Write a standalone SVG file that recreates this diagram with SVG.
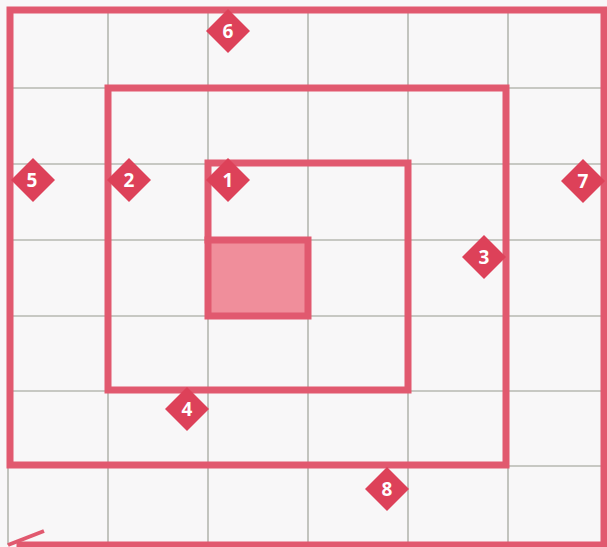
<svg xmlns="http://www.w3.org/2000/svg" width="607" height="547" viewBox="0 0 607 547">
  <style>
    .grid { stroke: #959a8e; stroke-width: 1.1; fill: none; }
    .spiral { stroke: #e1596f; stroke-width: 7; fill: none; stroke-linejoin: miter; stroke-linecap: square; }
    .dia { fill: #dd4159; }
    .num { fill: #ffffff; font-family: "Open Sans", "Liberation Sans", sans-serif; font-weight: bold; font-size: 19px; text-anchor: middle; }
  </style>
  <defs>
    <path id="diamond" d="M0,-22 L22,0 L0,22 L-22,0 Z"/>
  </defs>
  <rect x="0" y="0" width="607" height="547" fill="#f8f7f8"/>
  <g id="grid" class="grid">
    <line x1="108" y1="10" x2="108" y2="545"/>
    <line x1="208" y1="10" x2="208" y2="545"/>
    <line x1="308" y1="10" x2="308" y2="545"/>
    <line x1="408" y1="10" x2="408" y2="545"/>
    <line x1="508" y1="10" x2="508" y2="545"/>
    <line x1="8" y1="465" x2="8" y2="545"/>
    <line x1="10" y1="88" x2="604" y2="88"/>
    <line x1="10" y1="164" x2="604" y2="164"/>
    <line x1="10" y1="240" x2="604" y2="240"/>
    <line x1="10" y1="316" x2="604" y2="316"/>
    <line x1="10" y1="391" x2="604" y2="391"/>
    <line x1="8" y1="466" x2="604" y2="466"/>
  </g>
  <g id="connectors">
    <polyline class="spiral" points="208,240 208,163 408,163 408,390 108,390 108,88 506,88 506,465 10,465 10,10 604,10 604,545 20,545"/>
    <polyline points="44,531 8,545" stroke="#e1596f" stroke-width="4" fill="none"/>
  </g>
  <g id="center-square">
    <rect x="208" y="240" width="100" height="76" fill="#f08e9b" stroke="#e1596f" stroke-width="7"/>
  </g>
  <g id="m1"><use href="#diamond" class="dia" x="228" y="180"/><text class="num" x="228" y="187">1</text></g>
  <g id="m2"><use href="#diamond" class="dia" x="129" y="180"/><text class="num" x="129" y="187">2</text></g>
  <g id="m3"><use href="#diamond" class="dia" x="484" y="257"/><text class="num" x="484" y="264">3</text></g>
  <g id="m4"><use href="#diamond" class="dia" x="187" y="409"/><text class="num" x="187" y="416">4</text></g>
  <g id="m5"><use href="#diamond" class="dia" x="33" y="180"/><text class="num" x="32" y="187">5</text></g>
  <g id="m6"><use href="#diamond" class="dia" x="228" y="31"/><text class="num" x="228" y="38">6</text></g>
  <g id="m7"><use href="#diamond" class="dia" x="583" y="181"/><text class="num" x="583" y="188">7</text></g>
  <g id="m8"><use href="#diamond" class="dia" x="387" y="489"/><text class="num" x="387" y="496">8</text></g>
</svg>
